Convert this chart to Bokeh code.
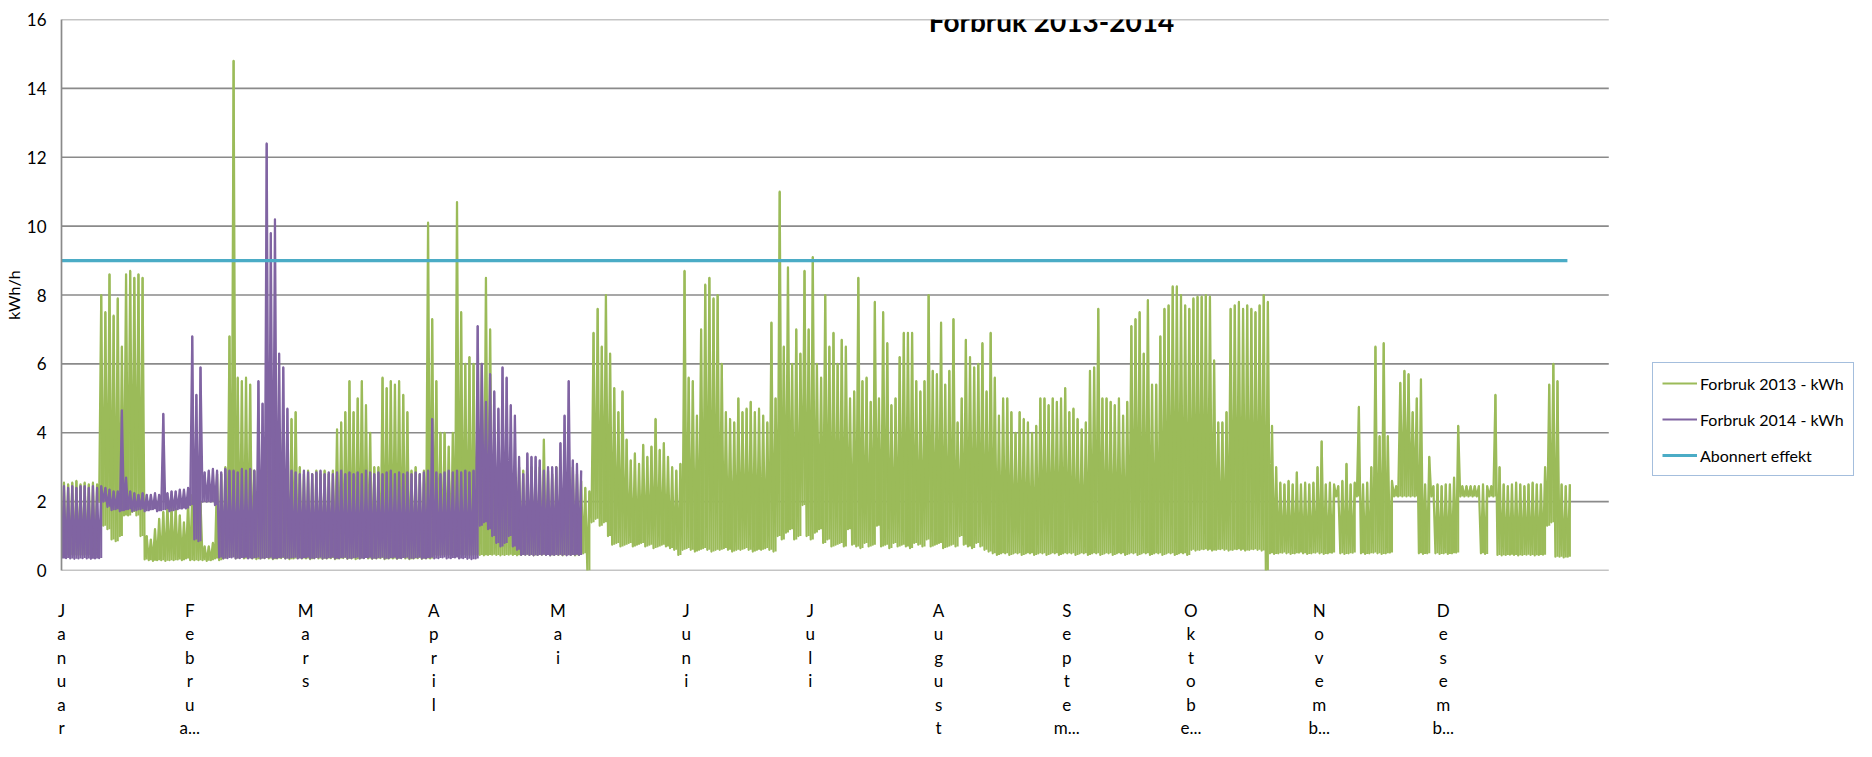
from bokeh.plotting import figure
from bokeh.models import Range1d, FixedTicker, Legend, LegendItem, Label
from bokeh.embed import file_html
from bokeh.resources import INLINE

# ---------------- data ----------------
# Daily envelope (low / high, kWh/h) of the hourly series, day 0 = 1 January
g2013_high = [
    # Jan
    2.55, 2.5, 2.55, 2.6, 2.5, 2.55, 2.5, 2.55, 2.5,
    8.0, 7.5, 8.6, 7.4, 7.9, 6.5, 8.6, 8.7, 8.5, 8.6, 8.5,
    1.0, 0.9, 1.2, 1.5, 1.7, 1.9, 1.9, 1.8, 1.6, 1.4, 2.0,
    # Feb
    2.2, 2.3, 2.0, 0.7, 0.7, 0.8, 2.8, 2.8, 3.0, 6.8, 14.8, 5.6, 5.5, 5.6, 5.4,
    2.9, 3.0, 2.9, 4.6, 2.9, 2.9, 3.0, 4.5, 3.0, 4.4, 4.6, 3.0, 2.8,
    # Mar
    2.9, 2.8, 2.9, 2.8, 2.9, 2.8, 2.9,
    4.1, 4.3, 4.6, 5.5, 4.6, 5.0, 5.5, 4.8, 4.0, 3.0, 3.0, 5.6, 5.3, 5.5, 5.4, 5.5, 5.1, 4.6,
    2.9, 3.0, 2.8, 2.9, 10.1, 7.3,
    # Apr
    5.5, 4.0, 4.0, 3.6, 4.0, 10.7, 7.5, 6.0, 6.2, 6.0, 5.5, 6.0, 8.5, 7.0, 3.0,
    2.8, 2.9, 3.0, 2.8, 2.9, 3.0, 2.9, 2.8, 3.0, 2.9, 3.0, 3.8, 2.9, 2.8, 3.0,
    # May
    2.9, 2.8, 2.9, 3.0, 2.8, 2.6,
    2.4, 2.3, 6.9, 7.6, 6.5, 8.0, 6.3, 5.3, 4.6, 5.2, 3.8, 3.2, 3.4, 3.1, 3.65, 3.3, 3.6, 4.4,
    3.5, 3.7, 3.3, 3.0, 2.9, 3.1, 8.7,
    # Jun
    5.6, 5.5, 4.5, 7.0, 8.3, 8.5, 7.9, 8.0, 6.0, 4.6,
    4.4, 4.3, 5.0, 4.6, 4.7, 4.9, 4.6, 4.7, 4.5, 4.3,
    7.2, 5.0, 11.0, 6.5, 8.8, 6.0, 7.0, 6.3, 8.7, 7.0,
    # Jul
    9.1, 6.0, 5.6, 8.0, 6.5,
    6.9, 6.0, 6.7, 6.5, 5.0, 5.2, 8.5, 5.5, 5.6, 4.9,
    7.8, 5.0, 7.5, 6.6, 4.8, 5.0, 6.2, 6.9, 6.9, 6.9,
    5.5, 5.2, 5.5, 8.0, 5.8, 5.7,
    # Aug
    7.2, 5.4, 5.8, 7.3, 4.3, 5.0, 6.7, 6.2, 5.9, 6.0,
    6.6, 5.2, 6.9, 5.6, 4.5, 5.0, 5.0, 4.6, 4.0, 4.6,
    4.4, 4.3, 4.0, 4.2, 5.0, 5.0, 4.8, 5.0, 4.9, 5.0,
    5.3,
    # Sep
    4.6, 4.7, 4.4, 4.1, 4.3, 5.8, 5.9, 7.6, 5.0, 5.0,
    4.9, 4.8, 5.0, 4.5, 4.9, 7.1, 7.3, 7.5, 6.3, 7.85,
    5.4, 5.4, 6.8, 7.6, 7.7, 8.25, 8.25, 8.0, 7.7, 7.6,
    # Oct
    7.9, 7.95, 7.95, 8.0, 7.95, 6.1, 4.3, 4.3, 4.6, 7.6,
    7.7, 7.8, 7.6, 7.7, 7.6, 7.5, 7.7, 8.0, 7.8, 4.2,
    3.0, 2.55, 2.5, 2.6, 2.5, 2.85, 2.5, 2.55, 2.5, 2.55,
    3.0,
    # Nov
    3.75, 2.5, 2.55, 2.5, 2.45, 2.6, 3.1, 2.5, 2.55, 4.75,
    2.5, 2.55, 3.0, 6.5, 3.9, 6.6, 3.9, 2.6, 2.45, 5.45,
    5.8, 5.7, 4.6, 5.0, 5.55, 2.5, 3.3, 2.45, 2.5, 2.45,
    # Dec
    2.5, 2.5, 2.7, 4.2, 2.45, 2.45, 2.45, 2.45, 2.45, 2.5,
    2.45, 2.45, 5.1, 3.0, 2.5, 2.45, 2.5, 2.55, 2.5, 2.45,
    2.5, 2.55, 2.5, 2.5, 3.0, 5.4, 6.0, 5.5, 2.5, 2.45,
    2.5,
]

g2013_low = (
    # Jan
    [0.45] * 9
    + [2.0, 1.3, 1.2, 0.9, 0.85, 1.0, 1.6, 1.6, 1.7, 1.6, 1.0]
    + [0.32, 0.3, 0.28, 0.3, 0.3, 0.28, 0.3, 0.3, 0.32, 0.3, 0.35]
    # Feb
    + [0.3, 0.3, 0.3, 0.3, 0.28, 0.3, 0.35, 0.3, 0.35, 0.4, 0.4, 0.35, 0.4, 0.35, 0.4]
    + [0.35, 0.33, 0.35, 0.36, 0.35, 0.33, 0.35, 0.36, 0.35, 0.33, 0.35, 0.36, 0.35]
    # Mar
    + [0.35, 0.33, 0.36, 0.35, 0.34, 0.35, 0.36, 0.33, 0.35, 0.36, 0.34, 0.35, 0.33, 0.35, 0.36, 0.35,
       0.34, 0.35, 0.36, 0.33, 0.35, 0.35, 0.34, 0.36, 0.35, 0.33, 0.35, 0.36, 0.34, 0.35, 0.35]
    # Apr
    + [0.45, 0.44, 0.46, 0.45, 0.44, 0.45, 0.46, 0.45, 0.44, 0.45, 0.46, 0.45, 0.44, 0.45, 0.46,
       0.45, 0.44, 0.45, 0.46, 0.45, 0.44, 0.45, 0.46, 0.45, 0.44, 0.45, 0.46, 0.45, 0.44, 0.45]
    # May
    + [0.45, 0.44, 0.46, 0.45, 0.44, 0.45]
    + [0.5, 0.0, 1.4, 1.5, 1.3, 1.4, 1.0]
    + [0.75, 0.8, 0.7, 0.75, 0.8, 0.7, 0.75, 0.8, 0.7, 0.75, 0.65, 0.7, 0.75, 0.7, 0.65, 0.6]
    + [0.45, 0.6]
    # Jun
    + [0.65, 0.6, 0.55, 0.6, 0.65, 0.6, 0.55, 0.6, 0.6, 0.65, 0.6, 0.55, 0.6, 0.6, 0.65, 0.6,
       0.55, 0.6, 0.6, 0.65, 0.6, 0.55]
    + [1.0, 0.9, 1.1, 1.2, 0.9, 1.0, 1.9, 1.0]
    # Jul
    + [0.9, 1.1, 1.2, 0.8, 0.9]
    + [0.7, 0.75, 0.8, 0.7, 1.2, 0.75, 0.7, 0.65, 0.8, 0.7, 0.75, 1.3, 0.7, 0.75, 0.65, 0.8,
       0.7, 0.75, 0.7, 0.65, 0.8, 0.75, 0.7, 0.9, 0.7, 0.75]
    # Aug
    + [0.8, 0.65, 0.7, 0.75, 0.7, 1.0, 0.75, 0.7, 0.65, 0.8, 0.7, 0.6, 0.55]
    + [0.5, 0.45, 0.5, 0.5, 0.45, 0.5, 0.5, 0.45, 0.5, 0.5, 0.45, 0.5, 0.5, 0.45, 0.5, 0.5, 0.45, 0.5]
    # Sep
    + [0.5, 0.5, 0.45, 0.5, 0.5, 0.45, 0.5, 0.5, 0.45, 0.5, 0.5, 0.45, 0.5, 0.5, 0.45,
       0.5, 0.5, 0.45, 0.5, 0.5, 0.45, 0.5, 0.5, 0.45, 0.5, 0.5, 0.45, 0.5, 0.5, 0.45]
    # Oct
    + [0.6, 0.58, 0.6, 0.62, 0.6, 0.58, 0.6, 0.62, 0.6, 0.58, 0.6, 0.62, 0.6, 0.58, 0.6, 0.62, 0.6, 0.58]
    + [0.0]
    + [0.5, 0.48, 0.5, 0.52, 0.5, 0.48, 0.5, 0.52, 0.5, 0.48, 0.5, 0.52]
    # Nov
    + [0.5, 0.48, 0.5, 0.52, 2.15, 0.5, 0.48, 0.5, 0.52, 2.15, 0.5, 0.48, 0.5, 0.52, 0.5, 0.48, 0.5, 0.52]
    + [2.15, 2.15, 2.15, 2.15, 2.15, 2.15, 0.5, 0.48, 0.5, 2.15, 0.5, 0.48]
    # Dec
    + [0.5, 0.48, 0.5, 0.52, 2.15, 2.15, 2.15, 2.15, 2.15, 0.5, 0.48, 2.15, 2.15]
    + [0.45, 0.44, 0.45, 0.46, 0.45, 0.44, 0.45, 0.46, 0.45, 0.44, 0.45, 0.46]
    + [1.3, 1.4, 0.4, 0.4, 0.38, 0.4]
)

p2014_high = (
    [2.45, 2.4, 2.45, 2.4, 2.45, 2.45, 2.4, 2.45, 2.4, 2.45]
    + [2.4, 2.35]
    + [2.3, 2.3, 4.65, 2.7, 2.3, 2.25, 2.2, 2.25, 2.2, 2.2, 2.25, 2.2, 4.55, 2.25, 2.3, 2.3, 2.35, 2.35, 2.4]
    + [6.8, 5.1, 5.9]
    + [2.85, 2.9, 2.95, 2.9, 2.85, 2.95, 2.9, 2.9, 2.85, 2.95, 2.9, 2.95, 2.9]
    + [5.5, 4.85, 12.4, 9.8, 10.2, 6.3, 5.9, 4.7]
    + [2.9, 2.85, 2.8, 2.9, 2.85, 2.8, 2.85, 2.9, 2.8, 2.85,
       2.8, 2.85, 2.9, 2.8, 2.85, 2.8, 2.85, 2.8, 2.9, 2.85,
       2.8, 2.85, 2.8, 2.85, 2.9, 2.8, 2.85, 2.8, 2.85, 2.8,
       2.85, 2.8, 2.85, 2.9, 4.4, 2.85, 2.8, 2.85, 2.9, 2.85,
       2.9, 2.85, 2.9, 2.85, 2.9]
    + [7.1, 6.0, 4.9, 5.7, 5.2, 4.7, 5.9, 5.6, 4.8, 4.5, 3.3, 2.8, 3.4, 3.3, 3.3, 3.2,
       2.9, 3.0, 3.0, 3.0, 3.7, 4.5, 5.5, 3.2, 3.1, 2.9]
)

p2014_low = (
    [0.35, 0.36, 0.35, 0.34, 0.35, 0.36, 0.35, 0.34, 0.35, 0.36]
    + [2.0, 1.85]
    + [1.75, 1.78, 1.72, 1.75, 1.78, 1.72, 1.75, 1.78, 1.72, 1.75, 1.78, 1.72, 1.75, 1.78,
       1.72, 1.75, 1.78, 1.8, 1.8]
    + [1.9, 0.9, 0.85]
    + [2.0, 2.0, 2.0, 1.9]
    + [0.38, 0.35, 0.36, 0.38, 0.35, 0.36, 0.38, 0.35, 0.36, 0.38,
       0.35, 0.36, 0.38, 0.35, 0.36, 0.38, 0.35, 0.36, 0.38, 0.35,
       0.36, 0.38, 0.35, 0.36, 0.38, 0.35, 0.36, 0.38, 0.35, 0.36,
       0.38, 0.35, 0.36, 0.38, 0.35, 0.36, 0.38, 0.35, 0.36, 0.38,
       0.35, 0.36, 0.38, 0.35, 0.36, 0.38, 0.35, 0.36, 0.38, 0.35,
       0.36, 0.38, 0.35, 0.36, 0.38, 0.35, 0.36, 0.38, 0.35, 0.36,
       0.34, 0.33]
    + [0.35, 1.3, 1.4, 1.2, 1.0, 0.8, 0.7, 0.8, 1.0, 0.7, 0.6]
    + [0.45, 0.46, 0.45, 0.44, 0.45, 0.46, 0.45, 0.44, 0.45, 0.46, 0.45, 0.44, 0.45, 0.46, 0.45]
)

abonnert_effekt = 9.0

months = ["Januar", "Februa...", "Mars", "April", "Mai", "Juni", "Juli", "August",
          "Septem...", "Oktobe...", "Novemb...", "Desemb..."]
month_start_day = [0, 31, 59, 90, 120, 151, 181, 212, 243, 273, 304, 334]
y_ticks = [0, 2, 4, 6, 8, 10, 12, 14, 16]
axis_end_day = 374          # where the chart's category axis ends

assert len(g2013_high) == 365 and len(g2013_low) == 365
assert len(p2014_high) == 126 and len(p2014_low) == 126

# ---------------- drawing ----------------
FONT = "Lato"
GREEN = "#9BBB59"
PURPLE = "#8064A2"
AQUA = "#4BACC6"
GRID = "#8a8a8a"


def zigzag(lo, hi):
    xs, ys = [], []
    for i, (a, b) in enumerate(zip(lo, hi)):
        xs += [i + 0.1, i + 0.6]
        ys += [a, b]
    return xs, ys


W, H = 1856, 741
FL, FR, FT, FB = 59, 1608, 19, 578      # chart area edges in page pixels
x_end = axis_end_day * (W - FL) / (FR - FL)   # frame spans the full width; legend sits right of the grid

p = figure(width=W, height=H, x_range=Range1d(0, x_end), y_range=Range1d(0, 16),
           output_backend="svg", toolbar_location=None,
           min_border_left=FL, min_border_right=0, min_border_top=FT, min_border_bottom=H - FB)
p.outline_line_color = None
p.background_fill_color = "white"
p.border_fill_color = "white"
p.xgrid.visible = False
p.ygrid.visible = False

# horizontal gridlines, limited to the chart's category axis length
p.segment(x0=[0] * len(y_ticks), x1=[axis_end_day] * len(y_ticks), y0=y_ticks, y1=y_ticks,
          line_color=GRID, line_width=1.7)

p.yaxis.ticker = FixedTicker(ticks=y_ticks)
p.yaxis.major_label_text_font = FONT
p.yaxis.major_label_text_font_size = "17px"
p.yaxis.major_label_text_color = "#000000"
p.yaxis.major_tick_line_color = None
p.yaxis.major_tick_out = 0
p.yaxis.major_tick_in = 0
p.yaxis.minor_tick_line_color = None
p.yaxis.axis_line_color = GRID
p.yaxis.axis_line_width = 1.7
p.yaxis.major_label_standoff = 15
p.yaxis.axis_label = "kWh/h"
p.yaxis.axis_label_text_font = FONT
p.yaxis.axis_label_text_font_size = "16px"
p.yaxis.axis_label_text_font_style = "normal"
p.yaxis.axis_label_text_color = "#000000"
p.yaxis.axis_label_standoff = 1

p.xaxis.ticker = FixedTicker(ticks=month_start_day)
p.xaxis.major_label_overrides = {d: "\n".join(m[:5]) + "\n" + m[5:] if len(m) > 6 else "\n".join(m)
                                 for d, m in zip(month_start_day, months)}
p.xaxis.major_label_text_font = FONT
p.xaxis.major_label_text_font_size = "17px"
p.xaxis.major_label_text_line_height = 1.12
p.xaxis.major_label_text_color = "#000000"
p.xaxis.major_tick_line_color = None
p.xaxis.major_tick_out = 0
p.xaxis.major_tick_in = 0
p.xaxis.minor_tick_line_color = None
p.xaxis.axis_line_color = None
p.xaxis.major_label_standoff = 29

# 2013 series: filled day columns plus the hourly zigzag
g_days = [i + 0.6 for i in range(len(g2013_high))]
p.vbar(x=g_days, width=0.5, bottom=g2013_low, top=g2013_high, fill_color=GREEN, line_color=None)
gx, gy = zigzag(g2013_low, g2013_high)
r13 = p.line(gx, gy, line_color=GREEN, line_width=2.2, line_join="round")

# 2014 series on top
p_days = [i + 0.6 for i in range(len(p2014_high))]
p.vbar(x=p_days, width=0.5, bottom=p2014_low, top=p2014_high, fill_color=PURPLE, line_color=None)
px, py = zigzag(p2014_low, p2014_high)
r14 = p.line(px, py, line_color=PURPLE, line_width=2.2, line_join="round")

rab = p.line([0, len(g2013_high) - 1], [abonnert_effekt, abonnert_effekt],
             line_color=AQUA, line_width=3.2)

# title placed relative to the frame (screen units: from frame left / frame bottom)
title = Label(x=1049 - FL, y=FB - 28, x_units="screen", y_units="screen", text="Forbruk 2013-2014",
              text_font=FONT, text_font_style="bold", text_font_size="28px",
              text_align="center", text_baseline="alphabetic", text_color="#000000")
p.add_layout(title)

legend = Legend(items=[LegendItem(label="Forbruk 2013 - kWh", renderers=[r13]),
                       LegendItem(label="Forbruk 2014 - kWh", renderers=[r14]),
                       LegendItem(label="Abonnert effekt", renderers=[rab])],
                location=(1650 - FL, FB - 484))
legend.padding = 9
legend.spacing = 14
legend.margin = 0
legend.glyph_width = 35
legend.glyph_height = 20
legend.label_standoff = 3
legend.label_height = 22
legend.label_text_font = FONT
legend.label_text_font_size = "16px"
legend.label_text_color = "#000000"
legend.border_line_color = "#4a7ebb"
legend.border_line_width = 1.5
legend.background_fill_color = "white"
legend.background_fill_alpha = 1.0
p.add_layout(legend)

open("out.html", "w").write(file_html(p, INLINE))
